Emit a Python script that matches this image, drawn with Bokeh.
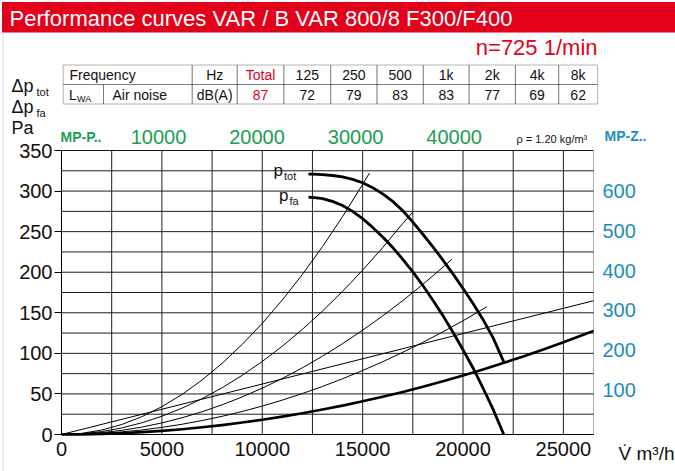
from bokeh.plotting import figure
from bokeh.models import (Range1d, LinearAxis, FixedTicker, SingleIntervalTicker,
                          Label, BoxAnnotation)
from bokeh.embed import file_html
from bokeh.resources import INLINE

# ---------------- data ----------------
mpp_ticks = [10000, 20000, 30000, 40000]
mpz_ticks = [100, 200, 300, 400, 500, 600]

freq_labels = ["Total", "125", "250", "500", "1k", "2k", "4k", "8k"]
lwa_values = ["87", "72", "79", "83", "83", "77", "69", "62"]

ptot_flow = [12300, 12500, 13000, 13500, 14000, 14500, 15000, 15500, 16000, 16500,
             17000, 17500, 18000, 18500, 19000, 19500, 20000, 20500, 21000, 21500, 22030]
ptot_pa = [321.0, 320.9, 320.3, 319.2, 317.4, 314.5, 310.2, 304.2, 296.6, 287.3,
           275.8, 261.7, 246.8, 231.3, 215.0, 198.0, 180.0, 161.5, 141.5, 119.0, 89.5]

pfa_flow = [12300, 12500, 13000, 13500, 14000, 14500, 15000, 15500, 16000, 16500,
            17000, 17500, 18000, 18500, 19000, 19500, 20000, 20500, 21000, 21500, 22030]
pfa_pa = [292.5, 292.1, 290.6, 287.3, 282.3, 275.0, 266.0, 255.2, 243.4, 230.4,
          215.9, 200.4, 183.6, 165.5, 146.5, 126.0, 104.5, 82.0, 57.0, 31.0, 0.0]

sys1_flow = [0, 1000, 2000, 3000, 4000, 5000, 6000, 7000, 8000, 9000, 10000,
             11000, 12000, 13000, 14000, 15000, 15340]
sys1_pa = [0, 1.4, 5.5, 12.3, 21.9, 34.3, 49.3, 67.1, 87.7, 111, 137,
           165.8, 197.3, 231.5, 268.5, 308.3, 322.2]

sys2_flow = [0, 1000, 2000, 3000, 4000, 5000, 6000, 7000, 8000, 9000, 10000,
             11000, 12000, 13000, 14000, 15000, 16000, 17000, 17530]
sys2_pa = [0, 0.9, 3.6, 8.1, 14.4, 22.5, 32.4, 44.1, 57.6, 72.9, 90,
           108.9, 129.6, 152.1, 176.4, 202.5, 230.4, 260.1, 275]

sys3_flow = [0, 1000, 2000, 3000, 4000, 5000, 6000, 7000, 8000, 9000, 10000,
             11000, 12000, 13000, 14000, 15000, 16000, 17000, 18000, 19000, 19450]
sys3_pa = [0, 0.57, 2.3, 5.1, 9.1, 14.3, 20.6, 28, 36.6, 46.3, 57.1,
           69.1, 82.2, 96.5, 111.9, 128.5, 146.2, 165, 185, 206.2, 216]

sys4_flow = [0, 1000, 2000, 3000, 4000, 5000, 6000, 7000, 8000, 9000, 10000,
             11000, 12000, 13000, 14000, 15000, 16000, 17000, 18000, 19000, 20000,
             21000, 21190]
sys4_pa = [0, 0.35, 1.4, 3.2, 5.6, 8.8, 12.6, 17.2, 22.4, 28.4, 35,
           42.4, 50.5, 59.2, 68.7, 78.9, 89.7, 101.3, 113.6, 126.5, 140.2,
           154.6, 157.4]

lin_flow = [0, 5000, 10000, 15000, 20000, 25000, 26500]
lin_pa = [0, 31.1, 62.2, 93.3, 124.4, 155.5, 164.8]

sysmain_flow = [0, 1000, 2000, 3000, 4000, 5000, 6000, 7000, 8000, 9000, 10000,
                11000, 12000, 13000, 14000, 15000, 16000, 17000, 18000, 19000, 20000,
                21000, 22000, 23000, 24000, 25000, 26000, 26500]
sysmain_pa = [0, 0.18, 0.73, 1.6, 2.9, 4.5, 6.5, 8.9, 11.6, 14.7, 18.2,
              22, 26.2, 30.7, 35.6, 40.9, 46.5, 52.5, 58.9, 65.6, 72.7,
              80.2, 88, 96.2, 104.7, 113.6, 122.9, 127.7]

# ---------------- layout / styling ----------------
FONT = "Liberation Sans"
RED = "#e3001b"
GREEN = "#1b9e52"
TEAL = "#1c8dbb"
INK = "#111111"
X_END, Y_END = 26500, 350           # chart area in data units
W, H = 675, 471                     # canvas
FL, FR, FT, FB = 61.0, 593.0, 150.0, 434.0   # chart area on the canvas (px)

sx = X_END / (FR - FL)
sy = Y_END / (FB - FT)
x_range = Range1d(-FL * sx, (W - FL) * sx)
y_range = Range1d(-(H - FB) * sy, FB * sy)


def dx(px):
    return (px - FL) * sx


def dy(py):
    return (FB - py) * sy


p = figure(width=W, height=H, x_range=x_range, y_range=y_range,
           x_axis_location=None, y_axis_location=None,
           output_backend="svg", toolbar_location=None, min_border=0)
p.background_fill_color = "white"
p.border_fill_color = "white"
p.outline_line_color = None
for g in p.grid:
    g.visible = False

# secondary scales: MP-P (top) and MP-Z (right)
mpp_px0, mpp_slope = 59.5, 0.009853
mpz_py0, mpz_slope = 429.0, 0.3972
p.extra_x_ranges = {"mpp": Range1d(-mpp_px0 / mpp_slope, (W - mpp_px0) / mpp_slope)}
p.extra_y_ranges = {"mpz": Range1d((mpz_py0 - H) / mpz_slope, mpz_py0 / mpz_slope)}

# grid lines of the chart area
grid_x = [i * 2500 for i in range(11)]
grid_y = [j * 25 for j in range(1, 15)]
p.segment(x0=grid_x, y0=[0] * len(grid_x), x1=grid_x, y1=[Y_END] * len(grid_x),
          line_color="#1e1e1e", line_width=1)
p.segment(x0=[0] * len(grid_y), y0=grid_y, x1=[X_END] * len(grid_y), y1=grid_y,
          line_color="#1e1e1e", line_width=1)
p.add_layout(BoxAnnotation(left=0, right=X_END, bottom=0, top=Y_END,
                           fill_alpha=0, line_color="black", line_width=1))


def style_axis(ax, color=INK):
    ax.major_label_text_font = FONT
    ax.major_label_text_font_size = "20px"
    ax.major_label_text_color = color
    ax.minor_tick_line_color = None


left = LinearAxis(fixed_location=0, bounds=(0, Y_END),
                  ticker=SingleIntervalTicker(interval=50, num_minor_ticks=0))
style_axis(left)
left.axis_line_color = "black"
left.major_tick_line_color = "black"
left.major_tick_out = 7
left.major_tick_in = 0
left.major_label_standoff = 2
p.add_layout(left, "left")

bottom = LinearAxis(fixed_location=0, bounds=(0, X_END),
                    ticker=SingleIntervalTicker(interval=5000, num_minor_ticks=0))
style_axis(bottom)
bottom.axis_line_color = "black"
bottom.major_tick_line_color = None
bottom.major_tick_out = 0
bottom.major_tick_in = 0
bottom.major_label_standoff = 7
p.add_layout(bottom, "below")

top = LinearAxis(x_range_name="mpp", fixed_location=Y_END,
                 ticker=FixedTicker(ticks=mpp_ticks))
style_axis(top, GREEN)
top.axis_line_color = None
top.major_tick_line_color = None
top.major_tick_out = 0
top.major_tick_in = 0
top.major_label_standoff = 7
p.add_layout(top, "above")

right = LinearAxis(y_range_name="mpz", fixed_location=X_END,
                   ticker=FixedTicker(ticks=mpz_ticks))
style_axis(right, TEAL)
right.axis_line_color = None
right.major_tick_line_color = None
right.major_tick_out = 0
right.major_tick_in = 0
right.major_label_standoff = 9
p.add_layout(right, "right")

# curves
for fx_, fy_ in ((sys1_flow, sys1_pa), (sys2_flow, sys2_pa), (sys3_flow, sys3_pa),
                 (sys4_flow, sys4_pa), (lin_flow, lin_pa)):
    p.line(fx_, fy_, line_color="black", line_width=1, line_join="round")
p.line(sysmain_flow, sysmain_pa, line_color="black", line_width=2.6, line_join="round")
p.line(ptot_flow, ptot_pa, line_color="black", line_width=2.8, line_join="round")
p.line(pfa_flow, pfa_pa, line_color="black", line_width=2.8, line_join="round")


def txt(text, px, py, size, color=INK, align="left", style="normal", font=FONT):
    p.add_layout(Label(x=dx(px), y=dy(py), text=text, text_font=font,
                       text_font_size=f"{size}px", text_color=color,
                       text_align=align, text_baseline="middle",
                       text_font_style=style))


def box(x0, x1, y0, y1, line="black", fill=None, lw=1):
    p.add_layout(BoxAnnotation(left=dx(x0), right=dx(x1), top=dy(y0), bottom=dy(y1),
                               fill_color=fill if fill else "white",
                               fill_alpha=1 if fill else 0,
                               line_color=line, line_width=lw))


# outer light frame and red title bar
box(2.5, 690, 31, 490, line="#c8c8c8", lw=2)
box(1.5, 690, 1.5, 32, line=None, fill=RED)
txt("Performance curves VAR / B VAR 800/8 F300/F400", 9, 17.5, 22, color="white")
txt("n=725 1/min", 597, 47, 22, color=RED, align="right")

# table
col_edges = [62.7, 191.7, 236.7, 283.4, 330.2, 376.5, 422.8, 468.6, 514.9, 558.2, 597.1]
r_top, r_mid, r_bot = 64.5, 84.0, 103.5
box(col_edges[0], col_edges[1], r_top, r_mid)
box(col_edges[0], 103.0, r_mid, r_bot)
box(103.0, col_edges[1], r_mid, r_bot)
for i in range(1, len(col_edges) - 1):
    box(col_edges[i], col_edges[i + 1], r_top, r_mid)
    box(col_edges[i], col_edges[i + 1], r_mid, r_bot)

row1_y, row2_y = 74.5, 94.0
TS = 14
hz_x = (col_edges[1] + col_edges[2]) / 2
txt("Frequency", 69, row1_y, TS)
txt("Hz", hz_x, row1_y, TS, align="center")
txt("L", 68.5, row2_y, TS)
txt("WA", 76.5, row2_y + 4, 9)
txt("Air noise", 112, row2_y, TS)
txt("dB(A)", hz_x, row2_y, TS, align="center")
for i, (f, v) in enumerate(zip(freq_labels, lwa_values)):
    cx = (col_edges[i + 2] + col_edges[i + 3]) / 2
    c = RED if i == 0 else INK
    txt(f, cx, row1_y, TS, color=c, align="center")
    txt(v, cx, row2_y, TS, color=c, align="center")

# left axis title
txt("\u0394p", 11, 85, 18)
txt("tot", 36, 91, 11)
txt("\u0394p", 11, 106, 18)
txt("fa", 36, 112, 11)
txt("Pa", 11, 127, 18)

# scale captions
txt("MP-P..", 60, 136.5, 14, color=GREEN, style="bold")
txt("MP-Z..", 604, 135, 14, color=TEAL, style="bold")
txt("\u03c1 = 1.20 kg/m\u00b3", 516, 138.5, 11)

# curve labels
txt("p", 273, 170, 17)
txt("tot", 283.5, 175, 11)
txt("p", 278.5, 195, 17)
txt("fa", 289, 200, 11)

# flow unit
txt("V\u0307", 618, 453, 19)
txt("m\u00b3/h", 636, 453, 19)

open("out.html", "w").write(file_html(p, INLINE))
